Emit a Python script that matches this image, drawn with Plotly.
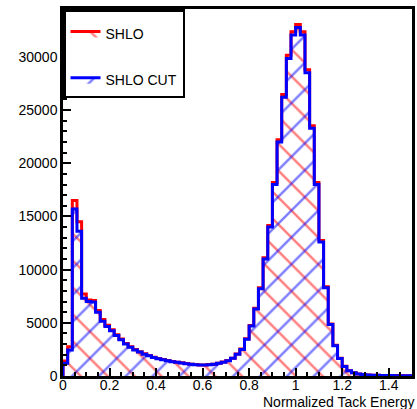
import plotly.graph_objects as go

# Histogram binning (category axis): 75 bins from 0 to 1.5
BIN_LOW = 0.0
BIN_WIDTH = 0.02
N_BINS = 75

shlo = [1400, 2760, 16500, 14500, 7700, 7150, 7100, 6150, 5300, 4780,
        4350, 3880, 3470, 3060, 2750, 2490, 2280, 2080, 1920, 1770,
        1650, 1550, 1460, 1370, 1300, 1235, 1175, 1115, 1070, 1045,
        1045, 1075, 1115, 1205, 1305, 1460, 1680, 2075, 2530, 3490,
        4750, 6370, 8290, 11120, 14150, 18180, 22220, 26460, 30150, 32350,
        33050, 32350, 28780, 23530, 18180, 12730, 8390, 4900, 2880, 1670,
        910, 505, 315, 195, 132, 102, 82, 66, 56, 46,
        41, 36, 31, 26, 21]

shlo_cut = [1200, 2450, 15700, 13600, 7300, 7000, 6950, 6000, 5150, 4650,
            4250, 3800, 3400, 3000, 2700, 2450, 2250, 2050, 1900, 1750,
            1630, 1530, 1440, 1350, 1290, 1220, 1160, 1100, 1060, 1030,
            1030, 1060, 1100, 1190, 1290, 1440, 1660, 2050, 2500, 3450,
            4700, 6300, 8200, 11000, 14000, 18000, 22000, 26200, 29850, 32050,
            32750, 32050, 28500, 23300, 18000, 12600, 8300, 4850, 2850, 1650,
            900, 500, 310, 190, 130, 100, 80, 65, 55, 45,
            40, 35, 30, 25, 20]

x_tick_vals = [0, 0.2, 0.4, 0.6, 0.8, 1.0, 1.2, 1.4]
x_tick_text = ["0", "0.2", "0.4", "0.6", "0.8", "1", "1.2", "1.4"]
y_tick_vals = [0, 5000, 10000, 15000, 20000, 25000, 30000]
y_tick_text = ["0", "5000", "10000", "15000", "20000", "25000", "30000"]

edges = [BIN_LOW + BIN_WIDTH * i for i in range(N_BINS + 1)]


def step_xy(values):
    xs = [edges[0]] + edges[:-1] + [edges[-1], edges[-1]]
    ys = [0] + list(values) + [values[-1], 0]
    return xs, ys


fig = go.Figure()

for name, vals, color, shape in [("SHLO", shlo, "#ff0000", "\\"),
                                 ("SHLO CUT", shlo_cut, "#0000ff", "/")]:
    xs, ys = step_xy(vals)
    fig.add_trace(go.Scatter(
        x=xs, y=ys, name=name, mode="lines",
        line=dict(color=color, width=3, shape="hv"),
        fill="tozeroy", fillcolor="rgba(0,0,0,0)",
        fillpattern=dict(shape=shape, fgcolor=color, bgcolor="rgba(0,0,0,0)",
                         size=19, solidity=0.13, fillmode="overlay"),
        legendgroup=name,
    ))

axis_font = dict(family="Liberation Sans, Arial, Helvetica", size=14, color="black")

fig.update_layout(
    width=417, height=409,
    margin=dict(l=63, r=2, t=9, b=33),
    plot_bgcolor="white", paper_bgcolor="white",
    font=axis_font,
    showlegend=True,
    legend=dict(x=0, y=1, xanchor="left", yanchor="top",
                bordercolor="black", borderwidth=2.5, bgcolor="white",
                tracegroupgap=25, font=axis_font,
                title=dict(text="&nbsp;", font=dict(size=5)),
                entrywidth=121, entrywidthmode="pixels"),
)

fig.update_xaxes(
    range=[0, 1.5], tickvals=x_tick_vals, ticktext=x_tick_text,
    ticks="inside", ticklen=8, tickwidth=1.5, tickcolor="black",
    minor=dict(dtick=0.05, tick0=0, ticks="inside", ticklen=4, tickwidth=1.5, tickcolor="black"),
    showline=True, linewidth=2.5, linecolor="black", mirror=True,
    showgrid=False, zeroline=False, tickfont=axis_font,
    ticklabelstandoff=-6,
)
fig.update_yaxes(
    range=[0, 34500], tickvals=y_tick_vals, ticktext=y_tick_text,
    ticks="inside", ticklen=8, tickwidth=1.5, tickcolor="black",
    minor=dict(dtick=1000, tick0=0, ticks="inside", ticklen=4, tickwidth=1.5, tickcolor="black"),
    showline=True, linewidth=2.5, linecolor="black", mirror=True,
    showgrid=False, zeroline=False, tickfont=axis_font,
)

fig.add_annotation(
    text="Normalized Tack Energy", xref="paper", yref="paper",
    x=1.0, y=0, xanchor="right", yanchor="top", yshift=-16, xshift=4,
    showarrow=False, font=axis_font,
)

fig.write_html("out.html")
